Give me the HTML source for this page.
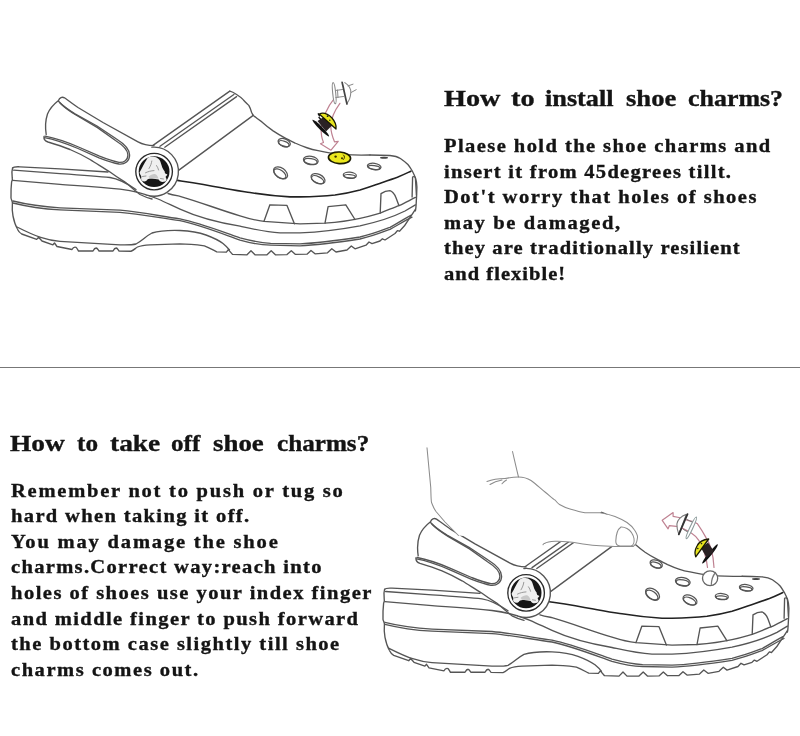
<!DOCTYPE html>
<html><head><meta charset="utf-8">
<style>
html,body{margin:0;padding:0;background:#fff;}
body{width:800px;height:736px;position:relative;overflow:hidden;font-family:"Liberation Serif",serif;font-weight:bold;color:#141414;}
.t{position:absolute;white-space:pre;line-height:1;will-change:transform;-webkit-text-stroke:0.35px #141414;}
.h{font-size:24px;transform-origin:0 0;}
.b{font-size:19px;transform:scaleX(1.08);transform-origin:0 0;}
svg{position:absolute;left:0;top:0;}
.hr{position:absolute;left:0;top:367px;width:800px;height:1px;background:#777;}
</style></head><body>
<svg width="800" height="736" viewBox="0 0 800 736">
<defs>
<g id="shoe" fill="none" stroke="#555" stroke-width="1.35" stroke-linejoin="round" stroke-linecap="round">
  <!-- heel strap outer -->
  <path d="M154,145.6 C147,145.5 143,144.5 138,141.8 L103,122.5 L78,107.5 C72,103.5 67,99.5 64.5,97.8 C62,96.5 59.5,97.5 58.5,100.5 C54,104 50,108 47.5,114 C45.5,120 45.2,128 46.2,134.5"/>
  <!-- inner loop double -->
  <path d="M58.5,101.2 C62,105 68,109.5 75,113.8 L97,126 L116.5,139 C124.5,144 129.6,149 129.6,155 C129.6,161 125,164.5 119,164 C113,163 106,160.5 99,157.8 L78,148.5 C65,143 55,139.5 44.5,137.6"/>
  <path d="M60,103 C63.5,106.5 69,110.8 76,115 L97.5,127.6 L115.5,140.5 C122.7,145 127.9,149.5 127.9,155 C127.9,160 124,162.8 119,162.4 C113.5,161.5 106.5,159 99.5,156.2 L78.5,147 C65.5,141.5 55.5,138.2 45,136.2"/>
  <!-- strap lower edge -->
  <path d="M44,136.5 C43.6,139.5 45,141 48,142 C58,145 65,147.5 70,149.5 C77,152.5 84,156 90,159.5 C97,164 104,168 110,172 C116,176.5 121,179.5 125,182 C130,186 134,190 140,194.5 C144,196.5 148,198 152,199"/>
  <!-- heel rim top double -->
  <path d="M12.9,168 C13.5,166.5 16,166.8 20,166.8 L60,168.8 L108,172"/>
  <path d="M13.6,170.2 L60,173.6 C80,175 100,176.5 110,177.5 C120,179 128,184 136,189.5"/>
  <!-- heel left edge -->
  <path d="M12.6,167.8 C11.9,170 11.9,175 12.2,177.5 C12.6,179 12.6,180 11.6,182 C11,187 10.9,194 11,198 C11.3,200 12.5,201 12.4,203 C12,208 12.4,213 13,216 C14,221 15.5,225.5 17.2,228.5"/>
  <!-- rim lower line -->
  <path d="M12.9,180.4 L60,184.3 C80,185.8 100,187 120,189.2 C135,191 147,194.5 158,199 C166,202.5 172,205.5 180,209.1 C195,216 215,222 240,226.2 C255,229.5 265,232 280,232.8 L300,232.9 C320,232 340,229.5 360,225.8 C380,221.5 395,216 405,211 L415.4,204.9"/>
  <!-- logo ring junction line -->
  <path d="M168,193.5 C172,194.8 176,195.5 180,196.3 C200,202 220,210 240,215.8 C250,219 257,220.6 264,221.3 L300,223.8 L325,223.2 C340,222 350,220.5 360,218.3 C370,216.5 375,214.5 380.2,213.1 C388,210 394,207.5 398.9,205.6 C405,203 410,200 415.4,197.4"/>
  <!-- dark rim top line -->
  <path stroke="#222" stroke-width="1.6" d="M177.5,180.4 C190,182.3 205,184.5 220,187.5 C232,190 240,191 250,192.5 C262,194.5 275,196 290,196.9 L300,196.9 C315,196.6 325,196 335,195 C345,193.5 352,192 360,189.9 C370,187 376,184.5 382.4,182.4 C388,180.5 393,178.8 397.4,177.2 C403,175 407,173 410.9,171.2"/>
  <!-- double line midsole -->
  <path d="M12.9,201 C25,204 40,206.6 60,207.8 L120,210.2 C140,212 160,216 180,218.9 C200,223 220,231 240,237.8 C252,241 262,242.8 270.6,243.3 L300,243.9 C320,243 340,240 360,237 C375,233.5 385,229 390,227.3 C398,223 404,219 410.9,215.3"/>
  <path d="M12.9,203 C25,206 40,208.7 60,209.9 L120,212.3 C140,214 160,218 180,220.7 C200,225 220,233 240,240.1 C252,243.5 262,245 270.6,245.2 L300,245.8 C320,245 340,242 360,239 C375,235.5 385,231 390,229.3 C398,225 405,220.5 412,217.2"/>
  <!-- tread top / arch -->
  <path d="M17,227 C25,231 33,235 40.7,237.4 C47,239.5 54,241 60,241.4 L120,244.8 C128,245 132,245 136,244 C142,241 146,236 152,233 C160,230.5 170,230.2 180,230.5 C192,231 200,232.8 206,235 C214,238 219,240.5 223,243.5 C226,246 228,248 229.5,250"/>
  <!-- tread bottom -->
  <path d="M17.6,229.5 C18.5,231.5 20,233 21.7,234 L36.7,239.4 L38.6,237.2 L42,241 L52.9,244.8 L54.5,243 L57,246.5 L72,249.5 C73,247.5 74.5,246.8 76,247.3 C77,248 77.6,249.7 78.5,251 L93,251 C94,249 95,248 96.2,248 C97.5,248.2 98,250 99,251 L113,251 C114,249 115,248 116.3,248 C117.5,248.3 118,250 119,251 L131,251.25 C134,250.3 135.5,248 137.5,247 C141,245.5 145,245 150,244.8 L180,243.9 C190,244 198,245 204.4,245.8 C209,247.5 213,250 216.7,251.9 L226.4,252.1 L228.3,249.6 L232.5,254.4 L247,254.8 L251,250.7 L255,254.8 L267,254.8 L271.2,250.7 L275.4,254.8 L287,254.6 L291.3,250.7 L295.5,254.4 L307,254.2 L311,250.4 L315,253.8 L327.5,252.8 L331.8,248.7 L336,252 L347,250 L351.3,246 L355,248.8 L366,245.2 L369,242 L372,243.6 L380,241 L382.4,238.8 L385,240 L395,233.5 L397.4,230.6 L399.5,231.2 C403,228 407,222.5 409.4,218.3 C412,214.5 414,211.5 415.4,209.3"/>
  <!-- toe front edge -->
  <path d="M370,155 C380,155 389.9,155.5 389.9,155.5 C395,156 398,157 400.4,158.5 C404,161 406,162.5 407.9,164.5 C410,167 411,169 412.4,171.2 C413.6,173.5 414.7,175.8 415.4,177.9 C416.5,181 416.9,184 416.9,186.9 L416.6,195.9 L416.1,204.9 C416,207 415.8,209 415.4,210.8"/>
  <!-- toe right window -->
  <path d="M412.1,197 L412.6,177 C413.5,176.3 414.8,176.6 415.4,177.5 L416.4,195"/>
  <!-- windows -->
  <path d="M264,221.3 L269.9,204.8 L287,205.4 L294.4,223.8"/>
  <path d="M325,223.2 L328.1,206.7 L345.8,204.8 L355,219.5"/>
  <path d="M380.2,213.1 L381,193.6 C384,191.5 387.5,190.6 389.9,190.6 C392.5,191.5 394.5,194 395.9,197.4 L398.9,205.6"/>
  <!-- forward band -->
  <path d="M153,145.4 L229.8,91.1"/>
  <path d="M160,146.3 L233.9,94.5"/>
  <path d="M164.8,147.2 L236.6,96.6"/>
  <path d="M229.8,91.1 C232,91.5 234.5,93 236.6,94.5 C239,96 241.5,97.8 243.4,99.9 C246,102.5 247.5,104 248.8,105.4 C250,107.5 251,110 251.5,112.2 L252.9,114.9"/>
  <path d="M178.2,170.6 L252.9,115.6"/>
  <!-- vamp top line -->
  <path d="M252.9,114.9 C256,118 259,120 261.9,121.9 C266,125.5 269.5,128.3 273.1,130.9 C277,133.5 280.5,135.6 284.4,137.6 C288,139.6 292,141.5 295.6,143.25 C299.5,145 303,146.5 306.9,147.75 C310.5,149 314.5,150 318.1,150.6 C322,151.5 326,152.3 329.4,152.8 C340,154.5 355,155.5 370,155"/>
  <!-- holes -->
  <g stroke-width="1.25">
  <ellipse cx="284.2" cy="142.7" rx="6.35" ry="3.85" transform="rotate(20 284.2 142.7)"/>
  <ellipse cx="283.86" cy="143.64" rx="5.45" ry="2.45" transform="rotate(20 283.86 143.64)"/>
  <ellipse cx="310.8" cy="160.4" rx="7.45" ry="4.20" transform="rotate(10 310.8 160.4)"/>
  <ellipse cx="310.63" cy="161.38" rx="6.55" ry="2.80" transform="rotate(10 310.63 161.38)"/>
  <ellipse cx="280.5" cy="172.9" rx="7.80" ry="5.00" transform="rotate(35 280.5 172.9)"/>
  <ellipse cx="279.93" cy="173.72" rx="6.90" ry="3.60" transform="rotate(35 279.93 173.72)"/>
  <ellipse cx="318" cy="178.75" rx="7.44" ry="4.50" transform="rotate(25 318 178.75)"/>
  <ellipse cx="317.58" cy="179.66" rx="6.54" ry="3.10" transform="rotate(25 317.58 179.66)"/>
  <ellipse cx="349.8" cy="175.3" rx="6.55" ry="3.10" transform="rotate(5 349.8 175.3)"/>
  <ellipse cx="349.71" cy="176.30" rx="5.65" ry="1.70" transform="rotate(5 349.71 176.30)"/>
  <ellipse cx="374.2" cy="166.5" rx="6.85" ry="3.25" transform="rotate(8 374.2 166.5)"/>
  <ellipse cx="374.06" cy="167.49" rx="5.95" ry="1.85" transform="rotate(8 374.06 167.49)"/>
  </g>
  <ellipse cx="384" cy="157.8" rx="4" ry="1" fill="#444" stroke="none"/>
  <!-- rivet -->
  <path d="M151.9,147.2 A24.5,24.5 0 1 1 146,194.8" fill="#fff"/>
  <circle cx="154.1" cy="171.6" r="18.3" fill="#fff" stroke="#2a2a2a" stroke-width="1.35"/>
  <circle cx="154.1" cy="171.6" r="15.4" fill="#161616" stroke="none"/>
  <path fill="#efefef" stroke="none" d="M139.6,172.2 C141,170 142,168 143,166 C144.3,163.5 145.5,161.5 146.6,159.8 C147.3,158.6 148,157.6 149.5,157.1 C151,156.6 153,156.6 154.8,157 C156.5,157.3 158.2,158.4 159.4,159.7 C160.3,161 160.9,162.8 161.4,164.8 C161.9,166.6 162.4,168 163.2,169.2 C163.8,170.2 164.3,170.8 164.6,171.3 L165.3,173.6 C166,174.2 167,174.3 167.4,174.6 C167,175.6 166.2,176.2 165.6,176.8 C165.8,178 166.6,178.8 166.6,179.8 C166.2,181.4 164.6,182 162.6,182 C160.8,181.8 159.4,181 158.7,179.6 L152,178.6 C150,178.6 148.5,179 147.4,179.6 C147,180.8 146,181.4 144.4,181.4 C142.6,181.2 141.4,180.4 141.1,179.2 C141.1,178 141.5,177.2 141.2,176.2 C140.6,175 139.8,173.8 139.6,172.2 Z"/>
  <path fill="#c8c8c8" stroke="none" d="M148.5,176.8 C151,174.5 153.5,173.6 155.5,174.2 C157,175 158,176.4 158.5,178.6 L150,178.4 Z"/>
  <path fill="none" stroke="#8e8e8e" stroke-width="0.9" d="M151.8,161 C151.5,163.5 150.5,166 149,168.5 M145.5,172.8 C148,171.5 151,170.8 154,170.6 M156.5,165.5 C157.5,167 158.3,168.5 158.6,170 M142.5,176.5 L146,176 M160.5,178.5 L163.5,179"/>
  <ellipse cx="166.7" cy="172.3" rx="2" ry="1.1" fill="#161616" stroke="none"/>
</g>
</defs>
<use href="#shoe"/>
<use href="#shoe" transform="translate(372,421.3)"/>
<!-- TOP charms -->
<g fill="none" stroke-linecap="round" stroke-linejoin="round">
  <path stroke="#bf8292" stroke-width="1.2" d="M334,98.9 C328,106 322.5,118 321.2,128 C320.9,134 322,139 323.5,142.5 L320.5,143.7 L331,150.2 L338.2,141.3 L334.5,141.8 C332.5,137 330.8,132 330.8,126 C331,118 335,110 339.9,103.3"/>
  <ellipse cx="334.2" cy="93.2" rx="1.5" ry="10.6" transform="rotate(-6 334.2 93.2)" stroke="#8a8a8a" stroke-width="1.1" fill="#fff"/>
  <path stroke="#8a8a8a" stroke-width="1" d="M335.5,90.5 L342.5,89.5 M335.8,97.5 L343.5,96.5 M337.5,90 L338,97.5"/>
  <path stroke="#8a8a8a" stroke-width="1.1" fill="#fff" d="M344.8,82.6 C348.5,85 351,89 350.8,92.5 C350.6,97 349,101 346.5,103.8"/>
  <path stroke="#444" stroke-width="1.7" d="M342.1,82.3 C343.5,88 345.5,98 347,104"/>
  <path stroke="#8a8a8a" stroke-width="1" d="M348,85.9 L353,84.2 M351.3,92.4 L356.2,89.7"/>
  <!-- middle charm -->
  <ellipse cx="320.8" cy="128.1" rx="11.8" ry="1.7" transform="rotate(45 320.8 128.1)" fill="#111" stroke="none"/>
  <path fill="#2a2224" stroke="none" d="M317.5,121 L324.5,116.5 L332.5,125 L326,131.5 Z"/>
  <path fill="#e8e41e" stroke="#1a1a00" stroke-width="1.3" d="M319.2,114 C323,112.3 328,114 332,118 C335,121.5 336.6,125 336,129 Z"/>
  <circle cx="327.6" cy="116.2" r="0.9" fill="#222" stroke="none"/>
  <circle cx="329.8" cy="120.3" r="0.8" fill="#222" stroke="none"/>
  <path stroke="#111" stroke-width="1.4" d="M318.3,113.8 L319.5,115.8 M319,117.5 L320.5,119"/>
  <!-- smiley -->
  <ellipse cx="339.5" cy="157.8" rx="11.1" ry="5.8" transform="rotate(4 339.5 157.8)" fill="#ece81e" stroke="#1a1a00" stroke-width="1.6"/>
  <circle cx="335.6" cy="156.6" r="1.2" fill="#3a3000" stroke="none"/>
  <circle cx="342" cy="158.2" r="1" fill="#3a3000" stroke="none"/>
  <path stroke="#3a3000" stroke-width="1" d="M343.5,155 C345,156.2 344.8,158.2 343.3,159.6 M335,152.8 L337,152.6"/>
</g>
<!-- BOTTOM elements -->
<g fill="none" stroke-linecap="round" stroke-linejoin="round">
  <!-- hand -->
  <path fill="#fff" stroke="none" d="M426,440 L427,447.75 L429.25,465 L430.75,487.5 L431.5,502.5 L436,511.5 L445,522 L454,531 L458.5,535.5 L544.5,543.5 L555,541.25 L570,542 L585,544.25 L600,545.75 L615,546.5 L633,546.5 L636,543.5 L637.8,537.5 L634.5,530 L627,522.5 L615,516.5 L600,512.75 L585,512.75 L570,509 L559.5,504.5 L555,500 L540,488 L525,478.25 L518.5,477 L512.5,440 Z"/>
  <g stroke="#8c8c8c" stroke-width="1.05">
  <path d="M427,447.75 C428,458 429,470 430.75,487.5 C431,495 431,500 431.5,502.5 C433,506 434,509 436,511.5 L445,522 L454,531 L458.5,535.5"/>
  <path d="M512.5,451.5 C514.5,460 516.5,469 518.5,477"/>
  <path d="M505,478.5 C510,477.5 514,477 518.5,477 C523,477 527,478 531,480.5 C536,484 540,488 545,492 C550,496 553,499 555,500 C557,502.5 558,503.8 559.5,504.5 C563,506.5 566,508 570,509 C575,510.5 580,512 585,512.75 L600,512.75 C605,513.5 610,514.5 615,516.5 C620,518.5 624,520.5 627,522.5 C630.5,525 633,527.5 634.5,530 C636.5,533 637.8,535.5 637.5,537.5 C637.2,540.5 636.5,542.5 636,543.5 C635,545 634,546 633,546.5"/>
  <path d="M543,544.8 C543.5,543.6 544,543.3 544.5,543.5 C546,542.5 549,541.5 555,541.25 C560,541 565,541.5 570,542 C575,542.5 580,543.5 585,544.25 C590,545 595,545.5 600,545.75 L615,546.5 L633,546.5"/>
  <path d="M621,527 C618,529 616,535 615.8,541 C615.7,544 617,545.8 620,546 L631,546 C633.5,545.5 634.5,542 634,538.5 C633,534 630.5,530.5 627,528.5 C625,527.5 623,526.8 621,527 Z"/>
  <path d="M487,481.5 C492,479.5 497,478.5 505,478.5 M490,484.5 C494,482 497,481 502,480 M502,483.75 C503.5,482 504.5,481 506.5,480"/>
  </g>
  <!-- pink arrow -->
  <path stroke="#bf8292" stroke-width="1.2" d="M714,567.5 C713.5,558 711,545 706.3,538.1 C703.5,533 700.5,528 697.5,523.8 C694.5,521.8 691,520.8 688.8,520.6 L679,517.5 L673.1,516.3 L673.1,512.5 L662.2,520.3 L668.1,528.8 L669.4,525.6 L676.3,526.3 C680,527 684,528.5 691.6,533.3 C695,535.5 697.5,538 699,540.6 C703.5,548 706.5,558 707.5,567.5"/>
  <!-- gray charm -->
  <path stroke="#7a7a7a" stroke-width="1.1" fill="#fff" d="M686.3,514.4 C681,516 677.2,520 676.9,524 C676.8,529 677.8,532 678.8,534.4 Z"/>
  <path stroke="#7a7a7a" stroke-width="1" d="M687,519.5 L693,522.5 M683.5,529.5 L689.5,533"/>
  <ellipse cx="691.3" cy="527.9" rx="1.5" ry="12" transform="rotate(25 691.3 527.9)" stroke="#8a9a9a" stroke-width="1.1" fill="#fff"/>
  <path stroke="#333" stroke-width="1.8" d="M687.5,514.2 L678.8,534.4"/>
  <!-- yellow/black charm -->
  <ellipse cx="710" cy="553.9" rx="12.3" ry="1.7" transform="rotate(-51 710 553.9)" fill="#111" stroke="none"/>
  <path fill="#2a2224" stroke="none" d="M701,548 L708,542.5 L714,551.5 L706.5,557.5 Z"/>
  <path fill="#e8e41e" stroke="#1a1a00" stroke-width="1.3" d="M708.7,539 C703,539.5 699,542 697,546 C694.8,550 694.5,553.5 695.7,556.9 Z"/>
  <circle cx="697.8" cy="548.5" r="0.8" fill="#222" stroke="none"/>
  <circle cx="701.5" cy="543.6" r="0.8" fill="#222" stroke="none"/>
  <!-- button -->
  <ellipse cx="710.1" cy="578.3" rx="7.6" ry="7.4" fill="#fff" stroke="#666" stroke-width="1.3"/>
  <path stroke="#777" stroke-width="1.2" d="M715.5,572.5 C713,575.5 711.5,579 711.3,584.5"/>
</g>
</svg>
<div class="hr"></div>
<div class="t h" style="left:443.95px;top:85.6px;transform:scaleX(1.174)">How</div>
<div class="t h" style="left:511.20px;top:85.6px;transform:scaleX(1.180)">to</div>
<div class="t h" style="left:545.20px;top:85.6px;transform:scaleX(1.094)">install</div>
<div class="t h" style="left:625.95px;top:85.6px;transform:scaleX(1.109)">shoe</div>
<div class="t h" style="left:687.80px;top:85.6px;transform:scaleX(1.080)">charms?</div>
<div class="t h" style="left:9.70px;top:431.4px;transform:scaleX(1.140)">How</div>
<div class="t h" style="left:77.20px;top:431.4px;transform:scaleX(1.050)">to</div>
<div class="t h" style="left:109.80px;top:431.4px;transform:scaleX(1.143)">take</div>
<div class="t h" style="left:170.60px;top:431.4px;transform:scaleX(1.046)">off</div>
<div class="t h" style="left:212.50px;top:431.4px;transform:scaleX(1.119)">shoe</div>
<div class="t h" style="left:276.60px;top:431.4px;transform:scaleX(1.048)">charms?</div>
<div class="t b" style="left:443.67px;top:136.09px;letter-spacing:1.323px">Plaese hold the shoe charms and</div>
<div class="t b" style="left:443.67px;top:161.69px;letter-spacing:1.193px">insert it from 45degrees tillt.</div>
<div class="t b" style="left:443.67px;top:187.29px;letter-spacing:1.392px">Dot't worry that holes of shoes</div>
<div class="t b" style="left:443.67px;top:212.89px;letter-spacing:1.511px">may be damaged,</div>
<div class="t b" style="left:443.67px;top:238.49px;letter-spacing:1.040px">they are traditionally resilient</div>
<div class="t b" style="left:443.67px;top:264.09px;letter-spacing:0.948px">and flexible!</div>
<div class="t b" style="left:10.67px;top:480.69px;letter-spacing:1.628px">Remember not to push or tug so</div>
<div class="t b" style="left:10.67px;top:506.29px;letter-spacing:1.257px">hard when taking it off.</div>
<div class="t b" style="left:10.67px;top:531.89px;letter-spacing:1.679px">You may damage the shoe</div>
<div class="t b" style="left:10.67px;top:557.49px;letter-spacing:1.227px">charms.Correct way:reach into</div>
<div class="t b" style="left:10.67px;top:583.09px;letter-spacing:1.370px">holes of shoes use your index finger</div>
<div class="t b" style="left:10.67px;top:608.69px;letter-spacing:1.291px">and middle finger to push forward</div>
<div class="t b" style="left:10.67px;top:634.29px;letter-spacing:1.388px">the bottom case slightly till shoe</div>
<div class="t b" style="left:10.67px;top:659.89px;letter-spacing:1.430px">charms comes out.</div>
</body></html>
